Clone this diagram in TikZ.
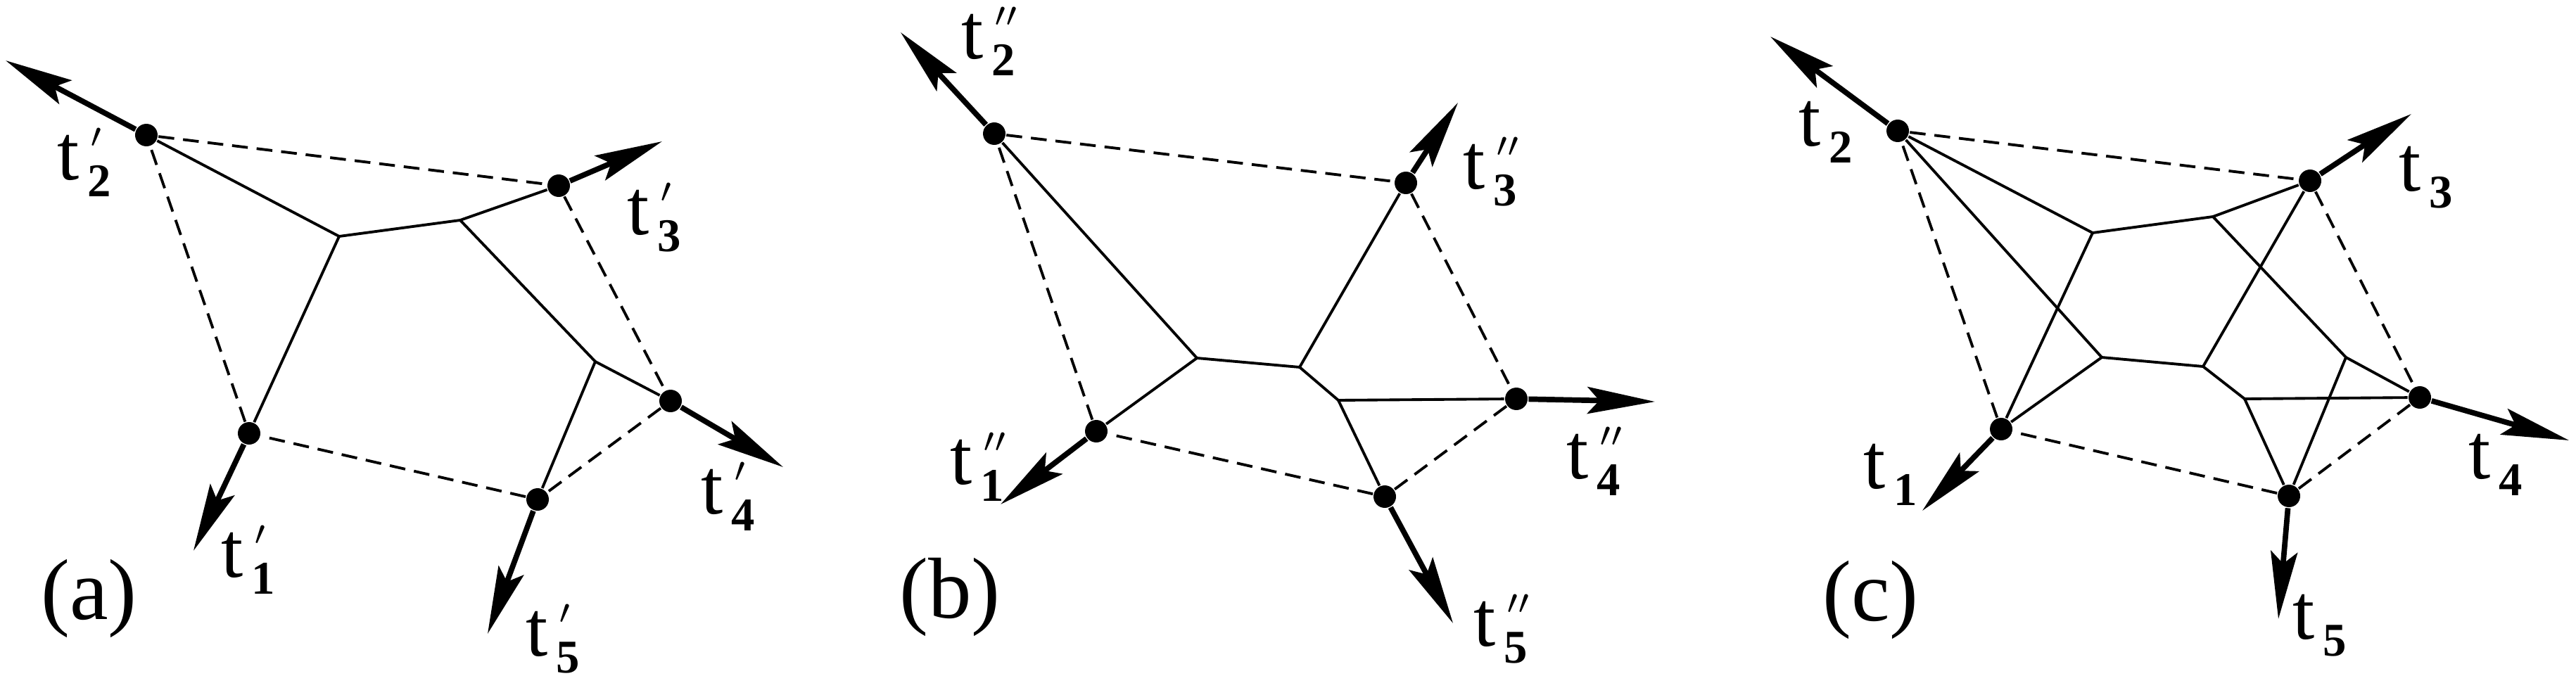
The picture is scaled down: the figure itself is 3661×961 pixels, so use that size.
\documentclass[tikz,border=0pt]{standalone}
\usepackage{fontspec}
\setmainfont{Liberation Serif}
\newfontfamily\labfont{Liberation Serif}
\usetikzlibrary{arrows.meta}

\newcommand{\tlab}[2]{t\rlap{\kern2.2pt\raisebox{6.5pt}{\fontsize{7}{7}\selectfont\ensuremath{#2}}}\kern1.7pt\raisebox{-3.5pt}{\fontsize{9.5}{10}\selectfont\bfseries #1}}

\begin{document}
\begin{tikzpicture}[
    x=0.005cm, y=-0.005cm,
    tline/.style={line width=0.55pt},
    dline/.style={line width=0.55pt, dash pattern=on 3.2pt off 1.8pt},
    leg/.style={line width=1.1pt, -{Stealth[length=4.8mm, width=1.9mm, inset=0.85mm]}},
    dot/.style={circle, fill=black, inner sep=0pt, minimum size=0.16cm},
    lab/.style={anchor=base west, inner sep=0pt, font=\labfont\fontsize{16}{18}\selectfont},
    panel/.style={anchor=base west, inner sep=0pt, font=\labfont\fontsize{17.5}{20}\selectfont}
]
\useasboundingbox (0,0) rectangle (3661,961);

% (a)
\node[dot] (a1) at (354,616) {};
\node[dot] (a2) at (208,192) {};
\node[dot] (a3) at (794,264) {};
\node[dot] (a4) at (953,570) {};
\node[dot] (a5) at (764,710) {};
\coordinate (aA) at (482,336);
\coordinate (aB) at (654,313);
\coordinate (aC) at (846,514);
\coordinate (a1e) at (275,783);
\coordinate (a2e) at (8,86);
\coordinate (a3e) at (941,201);
\coordinate (a4e) at (1113,664);
\coordinate (a5e) at (693,901);

\draw[tline] (a2) -- (aA) -- (aB) -- (a3);
\draw[tline] (aA) -- (a1);
\draw[tline] (aB) -- (aC) -- (a4);
\draw[tline] (aC) -- (a5);
\draw[dline] (a1) -- (a2) -- (a3) -- (a4) -- (a5) -- (a1);
\draw[leg] (a1) -- (a1e);
\draw[leg] (a2) -- (a2e);
\draw[leg] (a3) -- (a3e);
\draw[leg] (a4) -- (a4e);
\draw[leg] (a5) -- (a5e);

\node[lab] (la1) at (313,820) {\tlab{1}{\prime}};
\node[lab] (la2) at (80,255) {\tlab{2}{\prime}};
\node[lab] (la3) at (890,333) {\tlab{3}{\prime}};
\node[lab] (la4) at (995,730) {\tlab{4}{\prime}};
\node[lab] (la5) at (746,932) {\tlab{5}{\prime}};
\node[panel] (pa) at (57,880) {(a)};

% (b)
\node[dot] (b1) at (1558,613) {};
\node[dot] (b2) at (1413,190) {};
\node[dot] (b3) at (1998,260) {};
\node[dot] (b4) at (2155,567) {};
\node[dot] (b5) at (1968,706) {};
\coordinate (bP) at (1701,509);
\coordinate (bQ) at (1847,522);
\coordinate (bR) at (1902,569);
\coordinate (b1e) at (1422,717);
\coordinate (b2e) at (1280,46);
\coordinate (b3e) at (2072,146);
\coordinate (b4e) at (2352,571);
\coordinate (b5e) at (2065,886);

\draw[tline] (b2) -- (bP) -- (b1);
\draw[tline] (bP) -- (bQ) -- (b3);
\draw[tline] (bQ) -- (bR) -- (b4);
\draw[tline] (bR) -- (b5);
\draw[dline] (b1) -- (b2) -- (b3) -- (b4) -- (b5) -- (b1);
\draw[leg] (b1) -- (b1e);
\draw[leg] (b2) -- (b2e);
\draw[leg] (b3) -- (b3e);
\draw[leg] (b4) -- (b4e);
\draw[leg] (b5) -- (b5e);

\node[lab] (lb1) at (1349,688) {\tlab{1}{\prime\prime}};
\node[lab] (lb2) at (1365,83) {\tlab{2}{\prime\prime}};
\node[lab] (lb3) at (2078,268) {\tlab{3}{\prime\prime}};
\node[lab] (lb4) at (2225,680) {\tlab{4}{\prime\prime}};
\node[lab] (lb5) at (2093,918) {\tlab{5}{\prime\prime}};
\node[panel] (pb) at (1277,878) {(b)};

% (c)
\node[dot] (c1) at (2844,610) {};
\node[dot] (c2) at (2697,186) {};
\node[dot] (c3) at (3283,257) {};
\node[dot] (c4) at (3439,565) {};
\node[dot] (c5) at (3253,705) {};
\coordinate (cU1) at (2974,331);
\coordinate (cU2) at (3145,308);
\coordinate (cU3) at (3334,508);
\coordinate (cL1) at (2987,508);
\coordinate (cL2) at (3131,521);
\coordinate (cL3) at (3190,567);
\coordinate (c1e) at (2732,726);
\coordinate (c2e) at (2516,52);
\coordinate (c3e) at (3427,162);
\coordinate (c4e) at (3651,626);
\coordinate (c5e) at (3238,880);

\draw[tline] (c2) -- (cU1) -- (cU2) -- (c3);
\draw[tline] (cU1) -- (c1);
\draw[tline] (cU2) -- (cU3) -- (c4);
\draw[tline] (cU3) -- (c5);
\draw[tline] (c2) -- (cL1) -- (c1);
\draw[tline] (cL1) -- (cL2) -- (c3);
\draw[tline] (cL2) -- (cL3) -- (c4);
\draw[tline] (cL3) -- (c5);
\draw[dline] (c1) -- (c2) -- (c3) -- (c4) -- (c5) -- (c1);
\draw[leg] (c1) -- (c1e);
\draw[leg] (c2) -- (c2e);
\draw[leg] (c3) -- (c3e);
\draw[leg] (c4) -- (c4e);
\draw[leg] (c5) -- (c5e);

\node[lab] (lc1) at (2647,694) {\tlab{1}{}};
\node[lab] (lc2) at (2555,207) {\tlab{2}{}};
\node[lab] (lc3) at (3408,271) {\tlab{3}{}};
\node[lab] (lc4) at (3507,680) {\tlab{4}{}};
\node[lab] (lc5) at (3257,908) {\tlab{5}{}};
\node[panel] (pc) at (2589,882) {(c)};

\end{tikzpicture}
\end{document}
